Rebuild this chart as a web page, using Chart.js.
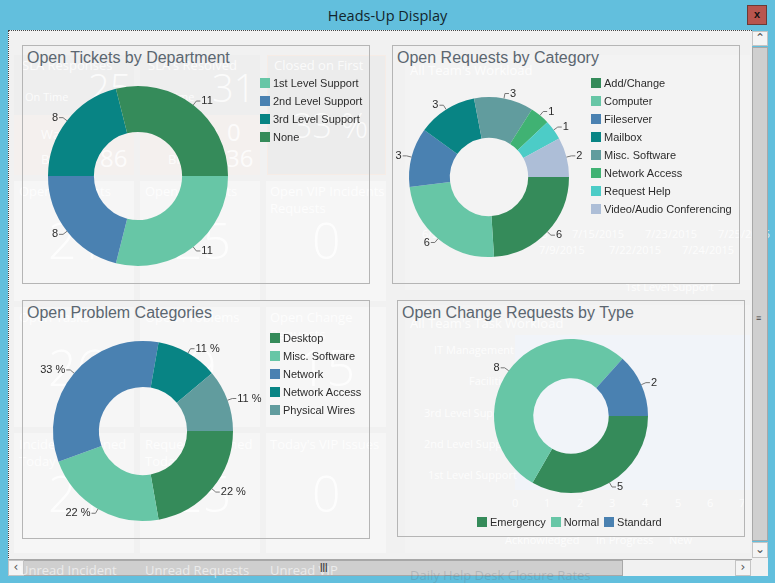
<!DOCTYPE html>
<html>
<head>
<meta charset="utf-8">
<title>Heads-Up Display</title>
<script src="https://cdn.jsdelivr.net/npm/chart.js@4"></script>
<style>
html, body { margin: 0; padding: 0; }
body { width: 775px; height: 583px; position: relative; overflow: hidden; background: #62bfdd; font-family: "Liberation Sans", sans-serif; }
div, canvas, ul { position: absolute; }
#title { left: 0; top: 6px; width: 775px; text-align: center; font: 14.5px "Open Sans", sans-serif; color: #12242c; }
#close { left: 747px; top: 5px; width: 18px; height: 18px; background: #b8554e; border: 1px solid #6b3a36; color: #111; font: bold 11px "Liberation Sans"; text-align: center; line-height: 17px; }
#client { left: 8px; top: 30px; width: 744px; height: 530px; background: #f1f1f1; border-top: 1px dotted #444; border-left: 1px dotted #444; box-sizing: border-box; }
.tile { background: #f6f6f6; }
.low { background: #f4f0ee; }
.ghost { color: rgba(255,255,255,.8); white-space: nowrap; font-family: "Open Sans", sans-serif; font-size: 13px; pointer-events: none; }
.big { font-size: 50px; font-weight: 300; line-height: 50px; }
.mid { font-size: 24px; line-height: 24px; }
.tick { font-size: 11px; }
.panel { border: 1px solid #b5b5b5; box-sizing: border-box; width: 348px; height: 239px; }
.panel h2 { position: absolute; left: 4px; top: 3px; margin: 0; font: normal 16px "Liberation Sans", sans-serif; color: #5b6670; white-space: nowrap; }
.panel ul { margin: 0; padding: 0; list-style: none; font-size: 11px; color: #2c2c2c; }
.panel li { height: 18px; display: flex; align-items: center; white-space: nowrap; }
.panel li i { width: 10px; height: 10px; margin-right: 3px; flex: none; }
ul.row { display: flex; }
ul.row li { margin-right: 5px; }
.btn { background: #f4f4f4; border: 1px solid #c4c4c4; box-sizing: border-box; color: #555; font: 12px "DejaVu Sans"; text-align: center; line-height: 13px; }
.thumb { background: #cfcfcf; border: 1px solid #a8a8a8; box-sizing: border-box; }
.grip { color: #444; font: bold 9px "Liberation Sans"; }
</style>
</head>
<body>
<div id="title">Heads-Up Display</div>
<div id="close">x</div>
<div id="client"></div>

<!-- 後ろのタイル -->
<div class="tile" style="left:14px;top:55px;width:120px;height:60px;background:#eeeeee"></div>
<div class="tile" style="left:140px;top:55px;width:120px;height:60px;background:#eeeeee"></div>
<div class="tile low" style="left:14px;top:115px;width:120px;height:60px"></div>
<div class="tile low" style="left:140px;top:115px;width:120px;height:60px"></div>
<div class="tile" style="left:267px;top:55px;width:119px;height:120px;background:#ececec;border:1px solid #f6ece6;box-sizing:border-box"></div>
<div class="tile" style="left:14px;top:181px;width:120px;height:120px"></div>
<div class="tile" style="left:140px;top:181px;width:120px;height:120px"></div>
<div class="tile" style="left:266px;top:181px;width:120px;height:120px"></div>
<div class="tile" style="left:14px;top:307px;width:120px;height:120px"></div>
<div class="tile" style="left:140px;top:307px;width:120px;height:120px"></div>
<div class="tile" style="left:266px;top:307px;width:120px;height:120px"></div>
<div class="tile" style="left:14px;top:433px;width:120px;height:120px"></div>
<div class="tile" style="left:140px;top:433px;width:120px;height:120px"></div>
<div class="tile" style="left:266px;top:433px;width:120px;height:120px"></div>
<div class="tile" style="left:405px;top:55px;width:345px;height:235px;background:#f3f3f3"></div>
<div class="tile" style="left:405px;top:305px;width:345px;height:248px;background:#f3f3f3"></div>
<div style="left:515px;top:335px;width:235px;height:155px;background:#f1f4f9"></div>

<!-- 透けて見える後ろの画面 -->
<div class="ghost" style="left:22px;top:56px">SLA Responses</div>
<div class="ghost big" style="left:88px;top:62px;font-size:38px">25</div>
<div class="ghost" style="left:25px;top:89px;font-size:11px">On Time</div>
<div class="ghost" style="left:41px;top:125px">Warning</div>
<div class="ghost mid" style="left:101px;top:120px">0</div>
<div class="ghost" style="left:41px;top:150px">Breach</div>
<div class="ghost mid" style="left:100px;top:146px">86</div>
<div class="ghost" style="left:148px;top:56px">SLA's Resolved</div>
<div class="ghost big" style="left:212px;top:62px;font-size:38px">31</div>
<div class="ghost" style="left:151px;top:89px;font-size:11px">On Time</div>
<div class="ghost" style="left:167px;top:123px">Warning</div>
<div class="ghost mid" style="left:227px;top:120px">0</div>
<div class="ghost" style="left:168px;top:150px">Breach</div>
<div class="ghost mid" style="left:226px;top:146px">36</div>
<div class="ghost" style="left:274px;top:56px">Closed on First</div>
<div class="ghost big" style="left:293px;top:100px;font-size:34px">33 %</div>
<div class="ghost" style="left:19px;top:182px">Open Incidents</div>
<div class="ghost big" style="left:48px;top:215px">21</div>
<div class="ghost" style="left:145px;top:182px">Open Requests</div>
<div class="ghost big" style="left:174px;top:215px">25</div>
<div class="ghost" style="left:270px;top:182px">Open VIP Incidents</div>
<div class="ghost" style="left:270px;top:199px">Requests</div>
<div class="ghost big" style="left:312px;top:215px">0</div>
<div class="ghost" style="left:19px;top:308px">Open Tasks</div>
<div class="ghost big" style="left:48px;top:342px">26</div>
<div class="ghost" style="left:145px;top:308px">Open Problems</div>
<div class="ghost big" style="left:188px;top:342px">9</div>
<div class="ghost" style="left:270px;top:308px">Open Change</div>
<div class="ghost" style="left:270px;top:325px">Requests</div>
<div class="ghost big" style="left:298px;top:342px">15</div>
<div class="ghost" style="left:19px;top:435px">Incidents Opened</div>
<div class="ghost" style="left:19px;top:452px">Today</div>
<div class="ghost big" style="left:48px;top:468px">21</div>
<div class="ghost" style="left:145px;top:435px">Requests Opened</div>
<div class="ghost" style="left:145px;top:452px">Today</div>
<div class="ghost big" style="left:174px;top:468px">25</div>
<div class="ghost" style="left:270px;top:435px">Today's VIP Issues</div>
<div class="ghost big" style="left:312px;top:468px">0</div>
<div class="ghost" style="left:410px;top:61px">All Team's Workload</div>
<div class="ghost tick" style="left:422px;top:226px">6/25/2015</div>
<div class="ghost tick" style="left:502px;top:226px">7/1/2015</div>
<div class="ghost tick" style="left:572px;top:226px">7/15/2015</div>
<div class="ghost tick" style="left:645px;top:226px">7/23/2015</div>
<div class="ghost tick" style="left:718px;top:226px">7/25/2015</div>
<div class="ghost tick" style="left:463px;top:242px">6/26/2015</div>
<div class="ghost tick" style="left:539px;top:242px">7/9/2015</div>
<div class="ghost tick" style="left:609px;top:242px">7/22/2015</div>
<div class="ghost tick" style="left:682px;top:242px">7/24/2015</div>
<div class="ghost tick" style="left:625px;top:279px">1st Level Support</div>
<div class="ghost" style="left:410px;top:314px">All Team's Task Workload</div>
<div class="ghost tick" style="left:434px;top:342px">IT Management</div>
<div class="ghost tick" style="left:469px;top:373px">Facilities</div>
<div class="ghost tick" style="left:424px;top:405px">3rd Level Support</div>
<div class="ghost tick" style="left:424px;top:436px">2nd Level Support</div>
<div class="ghost tick" style="left:428px;top:467px">1st Level Support</div>
<div class="ghost tick" style="left:512px;top:495px">0</div>
<div class="ghost tick" style="left:544px;top:495px">1</div>
<div class="ghost tick" style="left:577px;top:495px">2</div>
<div class="ghost tick" style="left:609px;top:495px">3</div>
<div class="ghost tick" style="left:642px;top:495px">4</div>
<div class="ghost tick" style="left:675px;top:495px">5</div>
<div class="ghost tick" style="left:707px;top:495px">6</div>
<div class="ghost tick" style="left:739px;top:495px">7</div>
<div class="ghost tick" style="left:505px;top:532px">Acknowledged</div>
<div class="ghost tick" style="left:596px;top:532px">In Progress</div>
<div class="ghost tick" style="left:669px;top:532px">New</div>

<!-- チャートの枠 -->
<div class="panel" style="left:22px;top:45px"><h2>Open Tickets by Department</h2><canvas id="deptChart" width="346" height="237"></canvas><ul id="deptLegend" style="left:237px;top:28px"></ul></div>
<div class="panel" style="left:392px;top:45px"><h2>Open Requests by Category</h2><canvas id="categoryChart" width="346" height="237"></canvas><ul id="categoryLegend" style="left:198px;top:28px"></ul></div>
<div class="panel" style="left:22px;top:300px;"><h2>Open Problem Categories</h2><canvas id="problemChart" width="346" height="237"></canvas><ul id="problemLegend" style="left:247px;top:28px"></ul></div>
<div class="panel" style="left:397px;top:300px;width:348px;height:237px"><h2>Open Change Requests by Type</h2><canvas id="changeChart" width="346" height="235"></canvas><ul id="changeLegend" class="row" style="left:79px;top:212px"></ul></div>

<!-- スクロールバー -->
<div class="btn" style="left:752px;top:31px;width:16px;height:15px">&#8963;</div>
<div class="thumb" style="left:752px;top:47px;width:16px;height:494px"></div>
<div class="grip" style="left:756px;top:313px">&#8801;</div>
<div class="btn" style="left:752px;top:542px;width:16px;height:16px">&#8964;</div>
<div style="left:8px;top:559px;width:744px;height:17px;background:#f1f1f1;border-top:1px solid #a8a8a8;box-sizing:border-box"></div>
<div class="thumb" style="left:24px;top:560px;width:599px;height:16px;border-left:0"></div>
<div class="btn" style="left:8px;top:560px;width:16px;height:16px">&#8249;</div>
<div class="btn" style="left:735px;top:560px;width:16px;height:16px">&#8250;</div>
<div style="left:752px;top:558px;width:16px;height:18px;background:#f1f1f1"></div>
<div class="ghost" style="left:19px;top:561px;color:rgba(255,255,255,.6)">Unread Incident</div>
<div class="ghost" style="left:145px;top:561px;color:rgba(255,255,255,.6)">Unread Requests</div>
<div class="ghost" style="left:270px;top:561px;color:rgba(255,255,255,.6)">Unread VIP</div>
<div class="ghost" style="left:410px;top:566px;color:rgba(90,110,120,.25)">Daily Help Desk Closure Rates</div>
<div class="grip" style="left:320px;top:562px">|||</div>

<script>
// 色
const seaGreen = 'rgba(46,135,85,.97)';
const aquamarine = 'rgba(98,196,163,.97)';
const steelBlue = 'rgba(68,125,174,.97)';
const teal = 'rgba(0,128,128,.97)';
const cadetBlue = 'rgba(92,153,155,.97)';
const mediumGreen = 'rgba(58,175,110,.97)';
const turquoise = 'rgba(70,202,197,.97)';
const lightSteel = 'rgba(170,188,214,.97)';

// チケット(部署別)
const deptLabels = ['1st Level Support', '2nd Level Support', '3rd Level Support', 'None'];
const deptValues = [11, 8, 8, 11];
const deptColors = [aquamarine, steelBlue, teal, seaGreen];

// リクエスト(カテゴリ別)
const categoryLabels = ['Add/Change', 'Computer', 'Fileserver', 'Mailbox', 'Misc. Software', 'Network Access', 'Request Help', 'Video/Audio Conferencing'];
const categoryValues = [6, 6, 3, 3, 3, 1, 1, 2];
const categoryColors = [seaGreen, aquamarine, steelBlue, teal, cadetBlue, mediumGreen, turquoise, lightSteel];

// 問題カテゴリ
const problemLabels = ['Desktop', 'Misc. Software', 'Network', 'Network Access', 'Physical Wires'];
const problemValues = [2, 2, 3, 1, 1];
const problemColors = [seaGreen, aquamarine, steelBlue, teal, cadetBlue];

// 変更リクエスト(種別)
const changeLabels = ['Emergency', 'Normal', 'Standard'];
const changeValues = [5, 8, 2];
const changeColors = [seaGreen, aquamarine, steelBlue];

// スライスの外側に引き出し線と値を描く
const leaderLabels = {
    id: 'leaderLabels',
    afterDatasetsDraw(chart, args, opts) {
        const ctx = chart.ctx;
        const meta = chart.getDatasetMeta(0);
        const values = chart.data.datasets[0].data;
        const total = values.reduce((a, b) => a + b, 0);
        ctx.save();
        ctx.font = '11px "Liberation Sans", sans-serif';
        ctx.textBaseline = 'middle';
        meta.data.forEach(function (arc, i) {
            const p = arc.getProps(['x', 'y', 'startAngle', 'endAngle', 'outerRadius'], true);
            const angle = (p.startAngle + p.endAngle) / 2;
            const cos = Math.cos(angle), sin = Math.sin(angle);
            const right = cos >= 0;
            const x1 = p.x + cos * p.outerRadius, y1 = p.y + sin * p.outerRadius;
            const x2 = p.x + cos * (p.outerRadius + 5), y2 = p.y + sin * (p.outerRadius + 5);
            const x3 = x2 + (right ? 4 : -4);
            ctx.strokeStyle = '#777777';
            ctx.lineWidth = 1;
            ctx.beginPath();
            ctx.moveTo(x1, y1);
            ctx.lineTo(x2, y2);
            ctx.lineTo(x3, y2);
            ctx.stroke();
            ctx.fillStyle = '#2c2c2c';
            ctx.textAlign = right ? 'left' : 'right';
            const text = opts.percent ? Math.round(values[i] / total * 100) + ' %' : String(values[i]);
            ctx.fillText(text, x3 + (right ? 1 : -1), y2);
        });
        ctx.restore();
    }
};

// ドーナツを作って凡例をHTMLで並べる
function makeDonut(canvasId, legendId, labels, values, colors, cx, cy, radius, percent) {
    const canvas = document.getElementById(canvasId);
    const chart = new Chart(canvas.getContext('2d'), {
        type: 'doughnut',
        data: {
            labels: labels,
            datasets: [{ data: values, backgroundColor: colors, borderWidth: 0 }]
        },
        options: {
            responsive: false,
            animation: false,
            rotation: 90,
            cutout: '49%',
            layout: {
                padding: {
                    left: cx - radius,
                    top: cy - radius,
                    right: canvas.width - cx - radius,
                    bottom: canvas.height - cy - radius
                }
            },
            plugins: {
                legend: { display: false },
                tooltip: { enabled: false },
                leaderLabels: { percent: percent }
            }
        },
        plugins: [leaderLabels]
    });
    const legend = document.getElementById(legendId);
    chart.options.plugins.legend.labels.generateLabels(chart).forEach(function (item) {
        const li = document.createElement('li');
        const box = document.createElement('i');
        box.style.background = item.fillStyle;
        li.appendChild(box);
        li.appendChild(document.createTextNode(item.text));
        legend.appendChild(li);
    });
}

makeDonut('deptChart', 'deptLegend', deptLabels, deptValues, deptColors, 115, 130, 90, false);
makeDonut('categoryChart', 'categoryLegend', categoryLabels, categoryValues, categoryColors, 96, 131, 80, false);
makeDonut('problemChart', 'problemLegend', problemLabels, problemValues, problemColors, 120, 130, 90, true);
makeDonut('changeChart', 'changeLegend', changeLabels, changeValues, changeColors, 173, 115, 77, false);
</script>
</body>
</html>
